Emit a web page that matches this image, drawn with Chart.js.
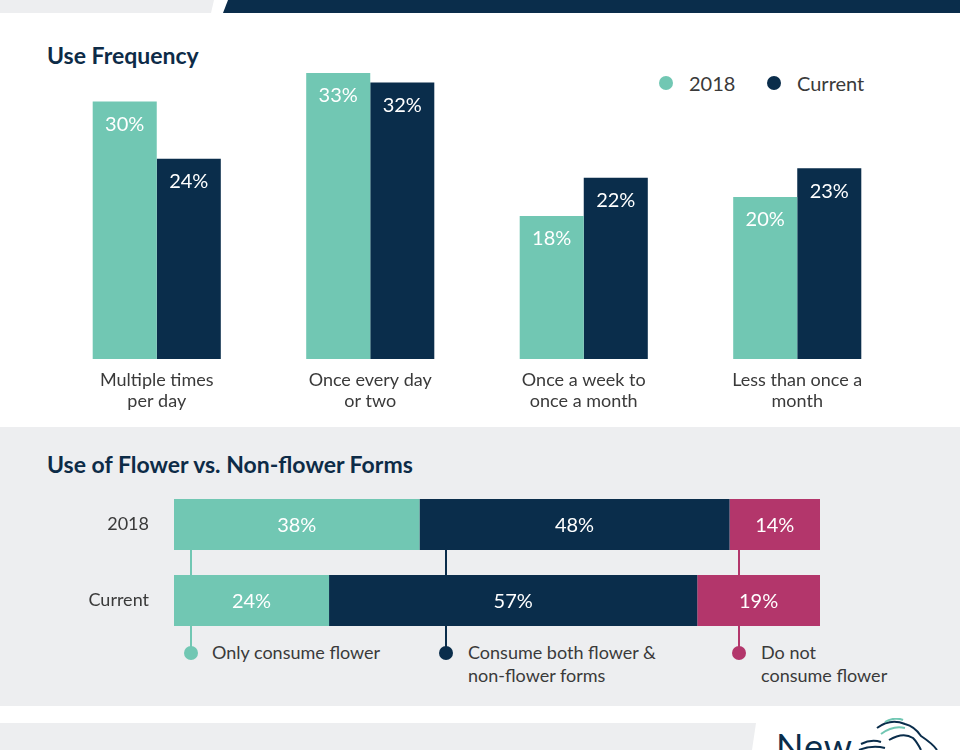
<!DOCTYPE html>
<html>
<head>
<meta charset="utf-8">
<script src="https://cdn.jsdelivr.net/npm/chart.js@4.4.1/dist/chart.umd.min.js"></script>
<style>
  html, body { margin: 0; padding: 0; }
  body { width: 960px; height: 750px; position: relative; overflow: hidden; background: #ffffff; font-family: Lato, "Open Sans", sans-serif; }
  .abs { position: absolute; }
  .title { color: #0d2b47; font-weight: 700; }
  .leg-dot { position: absolute; width: 14px; height: 14px; border-radius: 50%; }
  .leg-text { position: absolute; color: #3a3a3a; font-size: 18px; line-height: 23px; white-space: nowrap; }
</style>
</head>
<body>

<!-- top banner -->
<div class="abs" style="left:0;top:0;width:960px;height:13px;background:#edeef0;clip-path:polygon(0 0,214px 0,211px 13px,0 13px);"></div>
<div class="abs" style="left:0;top:0;width:960px;height:13px;background:#0a2d4b;clip-path:polygon(228px 0,960px 0,960px 13px,223px 13px);"></div>

<!-- use frequency section -->
<div class="abs title" style="left:47px;top:41px;font-size:23px;">Use Frequency</div>
<div class="leg-dot" style="left:659px;top:76px;background:#71c7b3;"></div>
<div class="leg-text" style="left:689px;top:72px;font-size:20px;">2018</div>
<div class="leg-dot" style="left:767px;top:76px;background:#0a2d4b;"></div>
<div class="leg-text" style="left:797px;top:72px;font-size:20px;">Current</div>
<div class="abs" style="left:0;top:13px;width:960px;height:410px;"><canvas id="freqChart"></canvas></div>

<!-- flower section -->
<div class="abs" style="left:0;top:427px;width:960px;height:279px;background:#edeef0;"></div>
<div class="abs title" style="left:47px;top:450px;font-size:23px;">Use of Flower vs. Non-flower Forms</div>
<div class="abs" style="left:190px;top:550px;width:2px;height:103px;background:#71c7b3;"></div>
<div class="abs" style="left:445px;top:550px;width:2px;height:103px;background:#0a2d4b;"></div>
<div class="abs" style="left:738px;top:550px;width:2px;height:103px;background:#b3366b;"></div>
<div class="leg-dot" style="left:184px;top:646px;background:#71c7b3;"></div>
<div class="leg-dot" style="left:439px;top:646px;background:#0a2d4b;"></div>
<div class="leg-dot" style="left:732px;top:646px;background:#b3366b;"></div>
<div class="leg-text" style="left:212px;top:641px;">Only consume flower</div>
<div class="leg-text" style="left:468px;top:641px;">Consume both flower &amp;<br>non-flower forms</div>
<div class="leg-text" style="left:761px;top:641px;">Do not<br>consume flower</div>
<div class="abs" style="left:0;top:427px;width:960px;height:279px;"><canvas id="formChart"></canvas></div>

<!-- bottom band -->
<div class="abs" style="left:0;top:723px;width:960px;height:27px;background:#edeef0;clip-path:polygon(0 0,756px 0,752px 27px,0 27px);"></div>
<div class="abs" style="left:776px;top:724px;font-size:36px;color:#0a2d4b;letter-spacing:1px;">New</div>
<svg class="abs" style="left:855px;top:718px;" width="90" height="32" viewBox="0 0 90 32">
  <path d="M6 26 C14 22 20 22 26 24 M4 32 C14 28 22 28 30 30" fill="none" stroke="#0a2d4b" stroke-width="2"/>
  <path d="M22 10 C30 4 40 2 50 6 C58 8 62 12 66 18 C72 22 78 26 82 32" fill="none" stroke="#0a2d4b" stroke-width="2"/>
  <path d="M26 16 C34 10 42 8 50 10 M30 4 C36 0 44 0 48 2" fill="none" stroke="#71c7b3" stroke-width="2"/>
  <path d="M34 22 C44 16 52 16 58 20 C62 24 64 28 66 32" fill="none" stroke="#0a2d4b" stroke-width="2"/>
</svg>

<script>
const TEAL = "#71c7b3";
const NAVY = "#0a2d4b";
const PINK = "#b3366b";

// Use frequency data
const freqCategories = [["Multiple times", "per day"], ["Once every day", "or two"], ["Once a week to", "once a month"], ["Less than once a", "month"]];
const freq2018 = [30, 33, 18, 20];
const freqCurrent = [24, 32, 22, 23];

// Flower vs non-flower data
const formRows = ["2018", "Current"];
const onlyFlower = [38, 24];
const bothForms = [48, 57];
const noFlower = [14, 19];

// draws the white % labels inside bars
const valueLabels = {
  id: "valueLabels",
  afterDatasetsDraw(chart, args, opts) {
    const ctx = chart.ctx;
    ctx.save();
    ctx.fillStyle = "#ffffff";
    ctx.font = "20px Lato";
    ctx.textAlign = "center";
    ctx.textBaseline = "middle";
    chart.data.datasets.forEach((ds, i) => {
      chart.getDatasetMeta(i).data.forEach((bar, j) => {
        const p = bar.getCenterPoint();
        const y = opts.fromTop ? bar.y + 23 : p.y + 1;
        ctx.fillText(ds.data[j] + "%", p.x, y);
      });
    });
    ctx.restore();
  }
};

new Chart(document.getElementById("freqChart"), {
  type: "bar",
  data: {
    labels: freqCategories,
    datasets: [
      { label: "2018", data: freq2018, backgroundColor: TEAL },
      { label: "Current", data: freqCurrent, backgroundColor: NAVY }
    ]
  },
  options: {
    responsive: true, maintainAspectRatio: false, animation: false,
    layout: { padding: { left: 50, right: 56, top: 12.3, bottom: 4 } },
    categoryPercentage: 0.6, barPercentage: 1.0,
    plugins: { legend: { display: false }, tooltip: { enabled: false }, valueLabels: { fromTop: true } },
    scales: {
      x: {
        grid: { display: false, drawTicks: false }, border: { display: false },
        ticks: { color: "#3a3a3a", font: { family: "Lato", size: 18 }, padding: 10, maxRotation: 0 },
        afterFit: (s) => { s.height = 60; }
      },
      // axis starts a little above zero, like the original
      y: { display: false, min: 3, max: 38 }
    }
  },
  plugins: [valueLabels]
});

new Chart(document.getElementById("formChart"), {
  type: "bar",
  data: {
    labels: formRows,
    datasets: [
      { label: "Only consume flower", data: onlyFlower, backgroundColor: TEAL },
      { label: "Consume both flower & non-flower forms", data: bothForms, backgroundColor: NAVY },
      { label: "Do not consume flower", data: noFlower, backgroundColor: PINK }
    ]
  },
  options: {
    indexAxis: "y",
    responsive: true, maintainAspectRatio: false, animation: false,
    layout: { padding: { left: 0, right: 140, top: 59.5, bottom: 67.5 } },
    categoryPercentage: 1.0, barPercentage: 0.67,
    plugins: { legend: { display: false }, tooltip: { enabled: false }, valueLabels: { fromTop: false } },
    scales: {
      x: { display: false, stacked: true, min: 0, max: 100 },
      y: {
        stacked: true,
        grid: { display: false, drawTicks: false }, border: { display: false },
        ticks: { color: "#3a3a3a", font: { family: "Lato", size: 18 }, padding: 25 },
        afterFit: (s) => { s.width = 174; }
      }
    }
  },
  plugins: [valueLabels]
});
</script>
</body>
</html>
